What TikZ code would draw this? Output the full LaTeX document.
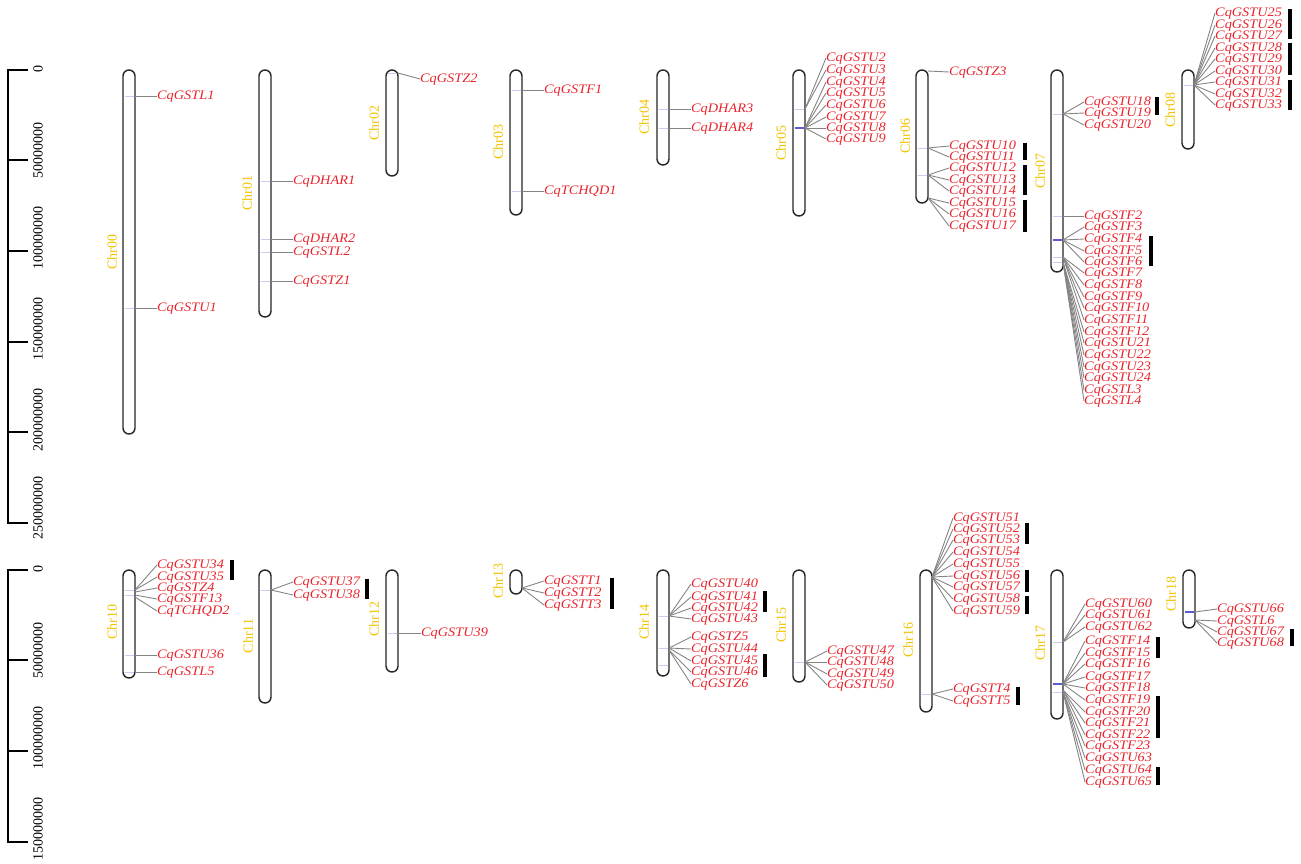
\documentclass[tikz,border=0pt]{standalone}
\usepackage{fontspec}
\setmainfont{Liberation Serif}
\newfontfamily\labfont{Liberation Serif}[FakeStretch=1.1]
\definecolor{genered}{HTML}{E8242C}
\definecolor{chrgold}{HTML}{F2C300}
\definecolor{conngray}{HTML}{848484}
\definecolor{markblue}{HTML}{CACAF2}
\definecolor{markdark}{HTML}{5C5CD0}
\tikzset{
 lab/.style={anchor=west, inner sep=0pt, text height=8.5pt, text depth=2.5pt, text=genered, font=\fontsize{13}{13}\labfont\itshape},
 chrlab/.style={rotate=90, inner sep=0pt, text=chrgold, font=\fontsize{14}{14}\selectfont},
 sclab/.style={rotate=90, inner sep=0pt, font=\fontsize{14}{14}\selectfont},
 conn/.style={draw=conngray, line width=0.9pt},
 chrom/.style={draw=black!85, fill=white, line width=1.4pt, rounded corners=6pt},
 bar/.style={line width=3.5pt, black},
 mk/.style={draw=markblue, line width=1pt},
 mkd/.style={draw=markdark, line width=1.2pt},
 axis/.style={line width=1.3pt, black},
}
% gene: #1 chromosome right x, #2 gene y, #3 label x, #4 label y, #5 name
\newcommand\gn[5]{%
  \coordinate (g#5) at (#1,#2);
  \node[lab] (n#5) at (#3,#4) {#5};
  \draw[conn] (g#5) -- (n#5.west);
}
% chromosome: #1 left, #2 top, #3 right, #4 bottom
\newcommand\chrbox[4]{\draw[chrom] (#1,#2) rectangle (#3,#4);}
% marker: #1 style, #2 left, #3 right, #4 y
\newcommand\gmk[4]{\draw[#1] (#2+1.5,#4) -- (#3-1.5,#4);}
\begin{document}
\begin{tikzpicture}[x=1pt,y=-1pt]
\useasboundingbox (0,0) rectangle (1301,863);
% ---------------- scales
\draw[axis] (28,70) -- (8,70) -- (8,523) -- (28,523);
\foreach \t in {160,251,342,432} \draw[axis] (8,\t) -- (28,\t);
\node[sclab] (s0) at (38,69) {0};
\node[sclab] (s1) at (38,150) {50000000};
\node[sclab] (s2) at (38,238) {100000000};
\node[sclab] (s3) at (38,329) {150000000};
\node[sclab] (s4) at (38,420) {200000000};
\node[sclab] (s5) at (38,508) {250000000};
\draw[axis] (28,570) -- (8,570) -- (8,842) -- (28,842);
\foreach \t in {660,751} \draw[axis] (8,\t) -- (28,\t);
\node[sclab] (b0) at (38,569) {0};
\node[sclab] (b1) at (38,650) {50000000};
\node[sclab] (b2) at (38,738) {100000000};
\node[sclab] (b3) at (38,829) {150000000};
% ---------------- chromosomes
\chrbox{123}{70}{135}{434}
\chrbox{259}{70}{271}{317}
\chrbox{386}{70}{398}{176}
\chrbox{510}{70}{522}{215}
\chrbox{657}{70}{669}{165}
\chrbox{793}{70}{805}{216}
\chrbox{916}{70}{928}{203}
\chrbox{1051}{70}{1063}{272}
\chrbox{1182}{70}{1194}{149}
\chrbox{123}{570}{135}{678}
\chrbox{259}{570}{271}{703}
\chrbox{386}{570}{398}{672}
\chrbox{510}{570}{522}{594}
\chrbox{657}{570}{669}{676}
\chrbox{793}{570}{805}{682}
\chrbox{920}{570}{932}{712}
\chrbox{1051}{570}{1063}{719}
\chrbox{1183}{570}{1195}{628}
% ---------------- markers
\gmk{mk}{123}{135}{96}\gmk{mk}{123}{135}{308}
\gmk{mk}{259}{271}{181}\gmk{mk}{259}{271}{239}\gmk{mk}{259}{271}{252}\gmk{mk}{259}{271}{281}
\gmk{mk}{386}{398}{73}
\gmk{mk}{510}{522}{90}\gmk{mk}{510}{522}{191}
\gmk{mk}{657}{669}{109}\gmk{mk}{657}{669}{128}
\gmk{mk}{793}{805}{109}\gmk{mkd}{793}{805}{128}
\gmk{mk}{916}{928}{148}\gmk{mk}{916}{928}{175}
\gmk{mk}{1051}{1063}{114}\gmk{mk}{1051}{1063}{216}\gmk{mkd}{1051}{1063}{240}\gmk{mk}{1051}{1063}{257}\gmk{mk}{1051}{1063}{262}
\gmk{mk}{1182}{1194}{85}
\gmk{mk}{123}{135}{590}\gmk{mk}{123}{135}{595}\gmk{mk}{123}{135}{655}\gmk{mk}{123}{135}{672}
\gmk{mk}{259}{271}{590}
\gmk{mk}{386}{398}{633}
\gmk{mk}{657}{669}{616}\gmk{mk}{657}{669}{648}\gmk{mk}{657}{669}{665}
\gmk{mk}{793}{805}{662}
\gmk{mk}{920}{932}{694}
\gmk{mk}{1051}{1063}{642}\gmk{mkd}{1051}{1063}{684}\gmk{mk}{1051}{1063}{692}
\gmk{mkd}{1183}{1195}{612}
% ---------------- chromosome labels
\node[chrlab] (c00) at (112,252) {Chr00};
\node[chrlab] (c01) at (247,193) {Chr01};
\node[chrlab] (c02) at (374,123) {Chr02};
\node[chrlab] (c03) at (498,142) {Chr03};
\node[chrlab] (c04) at (644,117) {Chr04};
\node[chrlab] (c05) at (781,143) {Chr05};
\node[chrlab] (c06) at (905,136) {Chr06};
\node[chrlab] (c07) at (1040,171) {Chr07};
\node[chrlab] (c08) at (1170,110) {Chr08};
\node[chrlab] (c10) at (112,622) {Chr10};
\node[chrlab] (c11) at (248,636) {Chr11};
\node[chrlab] (c12) at (374,619) {Chr12};
\node[chrlab] (c13) at (498,581) {Chr13};
\node[chrlab] (c14) at (644,622) {Chr14};
\node[chrlab] (c15) at (781,625) {Chr15};
\node[chrlab] (c16) at (908,640) {Chr16};
\node[chrlab] (c17) at (1040,643) {Chr17};
\node[chrlab] (c18) at (1171,594) {Chr18};
% ---------------- genes top row
\gn{135}{96}{157}{96}{CqGSTL1}
\gn{135}{308}{157}{308}{CqGSTU1}
\gn{271}{181}{293}{181}{CqDHAR1}
\gn{271}{239}{293}{239}{CqDHAR2}
\gn{271}{252}{293}{252}{CqGSTL2}
\gn{271}{281}{293}{281}{CqGSTZ1}
\gn{398}{73}{420}{79}{CqGSTZ2}
\gn{522}{90}{544}{90}{CqGSTF1}
\gn{522}{191}{544}{191}{CqTCHQD1}
\gn{669}{109}{691}{109}{CqDHAR3}
\gn{669}{128}{691}{128}{CqDHAR4}
\gn{805}{109}{826}{58}{CqGSTU2}
\gn{805}{109}{826}{70}{CqGSTU3}
\gn{805}{128}{826}{82}{CqGSTU4}
\gn{805}{128}{826}{93}{CqGSTU5}
\gn{805}{128}{826}{105}{CqGSTU6}
\gn{805}{128}{826}{117}{CqGSTU7}
\gn{805}{128}{826}{128}{CqGSTU8}
\gn{805}{128}{826}{139}{CqGSTU9}
\gn{928}{71}{949}{72}{CqGSTZ3}
\gn{928}{148}{949}{146}{CqGSTU10}
\gn{928}{148}{949}{157}{CqGSTU11}
\gn{928}{175}{949}{168}{CqGSTU12}
\gn{928}{175}{949}{180}{CqGSTU13}
\gn{928}{175}{949}{191}{CqGSTU14}
\gn{928}{198}{949}{203}{CqGSTU15}
\gn{928}{198}{949}{214}{CqGSTU16}
\gn{928}{198}{949}{226}{CqGSTU17}
\gn{1063}{114}{1084}{102}{CqGSTU18}
\gn{1063}{114}{1084}{113}{CqGSTU19}
\gn{1063}{114}{1084}{125}{CqGSTU20}
\gn{1063}{216}{1084}{216}{CqGSTF2}
\gn{1063}{240}{1084}{227}{CqGSTF3}
\gn{1063}{240}{1084}{239}{CqGSTF4}
\gn{1063}{240}{1084}{251}{CqGSTF5}
\gn{1063}{240}{1084}{262}{CqGSTF6}
\gn{1063}{257}{1084}{273}{CqGSTF7}
\gn{1063}{257}{1084}{285}{CqGSTF8}
\gn{1063}{257}{1084}{297}{CqGSTF9}
\gn{1063}{257}{1084}{308}{CqGSTF10}
\gn{1063}{257}{1084}{320}{CqGSTF11}
\gn{1063}{262}{1084}{332}{CqGSTF12}
\gn{1063}{262}{1084}{343}{CqGSTU21}
\gn{1063}{262}{1084}{355}{CqGSTU22}
\gn{1063}{262}{1084}{367}{CqGSTU23}
\gn{1063}{262}{1084}{378}{CqGSTU24}
\gn{1063}{262}{1084}{390}{CqGSTL3}
\gn{1063}{262}{1084}{401}{CqGSTL4}
\gn{1194}{85}{1215}{13}{CqGSTU25}
\gn{1194}{85}{1215}{25}{CqGSTU26}
\gn{1194}{85}{1215}{36}{CqGSTU27}
\gn{1194}{85}{1215}{48}{CqGSTU28}
\gn{1194}{85}{1215}{59}{CqGSTU29}
\gn{1194}{85}{1215}{71}{CqGSTU30}
\gn{1194}{85}{1215}{82}{CqGSTU31}
\gn{1194}{85}{1215}{94}{CqGSTU32}
\gn{1194}{85}{1215}{105}{CqGSTU33}
% ---------------- genes bottom row
\gn{135}{590}{157}{565}{CqGSTU34}
\gn{135}{590}{157}{577}{CqGSTU35}
\gn{135}{592}{157}{588}{CqGSTZ4}
\gn{135}{595}{157}{599}{CqGSTF13}
\gn{135}{597}{157}{611}{CqTCHQD2}
\gn{135}{655}{157}{655}{CqGSTU36}
\gn{135}{672}{157}{672}{CqGSTL5}
\gn{271}{590}{293}{582}{CqGSTU37}
\gn{271}{590}{293}{595}{CqGSTU38}
\gn{398}{633}{421}{633}{CqGSTU39}
\gn{522}{588}{544}{581}{CqGSTT1}
\gn{522}{588}{544}{593}{CqGSTT2}
\gn{522}{588}{544}{605}{CqGSTT3}
\gn{669}{616}{691}{584}{CqGSTU40}
\gn{669}{616}{691}{597}{CqGSTU41}
\gn{669}{616}{691}{608}{CqGSTU42}
\gn{669}{616}{691}{619}{CqGSTU43}
\gn{669}{648}{691}{637}{CqGSTZ5}
\gn{669}{648}{691}{649}{CqGSTU44}
\gn{669}{648}{691}{661}{CqGSTU45}
\gn{669}{650}{691}{672}{CqGSTU46}
\gn{669}{650}{691}{684}{CqGSTZ6}
\gn{805}{662}{827}{651}{CqGSTU47}
\gn{805}{662}{827}{662}{CqGSTU48}
\gn{805}{662}{827}{674}{CqGSTU49}
\gn{805}{662}{827}{685}{CqGSTU50}
\gn{932}{577}{953}{518}{CqGSTU51}
\gn{932}{577}{953}{529}{CqGSTU52}
\gn{932}{577}{953}{540}{CqGSTU53}
\gn{932}{577}{953}{552}{CqGSTU54}
\gn{932}{577}{953}{564}{CqGSTU55}
\gn{932}{577}{953}{576}{CqGSTU56}
\gn{932}{577}{953}{587}{CqGSTU57}
\gn{932}{577}{953}{599}{CqGSTU58}
\gn{932}{577}{953}{611}{CqGSTU59}
\gn{932}{694}{953}{689}{CqGSTT4}
\gn{932}{694}{953}{701}{CqGSTT5}
\gn{1063}{642}{1085}{604}{CqGSTU60}
\gn{1063}{642}{1085}{615}{CqGSTU61}
\gn{1063}{642}{1085}{627}{CqGSTU62}
\gn{1063}{684}{1085}{641}{CqGSTF14}
\gn{1063}{684}{1085}{653}{CqGSTF15}
\gn{1063}{684}{1085}{664}{CqGSTF16}
\gn{1063}{684}{1085}{677}{CqGSTF17}
\gn{1063}{684}{1085}{688}{CqGSTF18}
\gn{1063}{684}{1085}{700}{CqGSTF19}
\gn{1063}{690}{1085}{712}{CqGSTF20}
\gn{1063}{690}{1085}{723}{CqGSTF21}
\gn{1063}{690}{1085}{735}{CqGSTF22}
\gn{1063}{692}{1085}{746}{CqGSTF23}
\gn{1063}{692}{1085}{758}{CqGSTU63}
\gn{1063}{692}{1085}{770}{CqGSTU64}
\gn{1063}{692}{1085}{782}{CqGSTU65}
\gn{1195}{612}{1217}{609}{CqGSTU66}
\gn{1195}{620}{1217}{621}{CqGSTL6}
\gn{1195}{620}{1217}{632}{CqGSTU67}
\gn{1195}{620}{1217}{643}{CqGSTU68}
% ---------------- tandem bars
\draw[bar] (1025,143) -- (1025,160);
\draw[bar] (1025,165) -- (1025,195);
\draw[bar] (1025,200) -- (1025,232);
\draw[bar] (1157,97) -- (1157,115);
\draw[bar] (1151,236) -- (1151,266);
\draw[bar] (1290,9) -- (1290,39);
\draw[bar] (1290,43) -- (1290,75);
\draw[bar] (1290,80) -- (1290,110);
\draw[bar] (232,560) -- (232,580);
\draw[bar] (367,579) -- (367,599);
\draw[bar] (612,578) -- (612,609);
\draw[bar] (765,591) -- (765,612);
\draw[bar] (765,654) -- (765,677);
\draw[bar] (1027,523) -- (1027,544);
\draw[bar] (1027,570) -- (1027,592);
\draw[bar] (1027,596) -- (1027,614);
\draw[bar] (1018,687) -- (1018,705);
\draw[bar] (1158,637) -- (1158,658);
\draw[bar] (1158,696) -- (1158,738);
\draw[bar] (1158,767) -- (1158,785);
\draw[bar] (1292,629) -- (1292,646);
\end{tikzpicture}
\end{document}
